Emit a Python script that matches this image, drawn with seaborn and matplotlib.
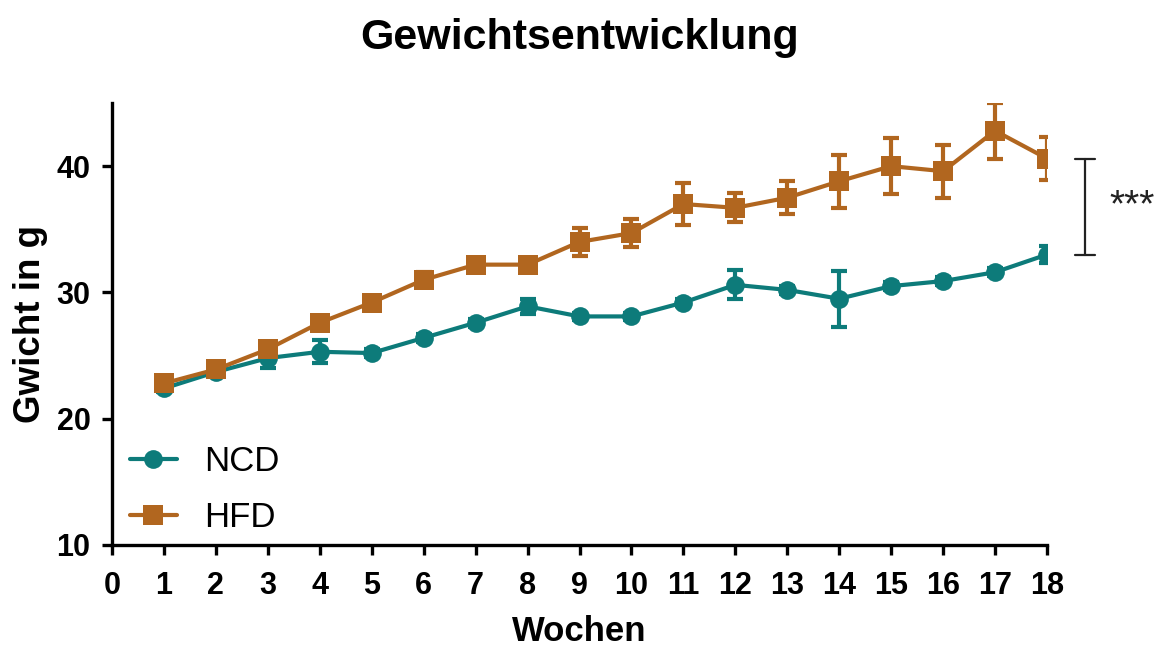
import numpy as np
import pandas as pd
import matplotlib
matplotlib.use("Agg")
import matplotlib.pyplot as plt
import seaborn as sns
from matplotlib.lines import Line2D

# Body weight over time (mean ± SEM) for two diet groups
weeks = list(range(1, 19))
ncd_mean = [22.4, 23.7, 24.8, 25.3, 25.2, 26.4, 27.6, 28.9, 28.1, 28.1,
            29.2, 30.6, 30.2, 29.5, 30.5, 30.9, 31.6, 33.0]
ncd_sem = [0.3, 0.3, 0.8, 0.9, 0.3, 0.3, 0.3, 0.6, 0.3, 0.3,
           0.3, 1.15, 0.3, 2.2, 0.3, 0.3, 0.3, 0.65]
hfd_mean = [22.8, 23.9, 25.5, 27.6, 29.2, 31.0, 32.2, 32.2, 34.0, 34.7,
            37.0, 36.7, 37.5, 38.8, 40.0, 39.6, 42.8, 40.6]
hfd_sem = [0.3, 0.3, 0.3, 0.3, 0.3, 0.6, 0.5, 0.5, 1.1, 1.1,
           1.7, 1.15, 1.3, 2.1, 2.2, 2.1, 2.2, 1.7]
groups = ["NCD", "HFD"]
colors = {"NCD": "#0d7b7a", "HFD": "#b1661f"}
markers = {"NCD": "o", "HFD": "s"}
msizes = {"NCD": 13.5, "HFD": 14.5}
x_ticks = list(range(0, 19))
y_ticks = [10, 20, 30, 40]
significance = "***"

df = pd.concat([
    pd.DataFrame({"Woche": weeks, "Gewicht": ncd_mean, "SEM": ncd_sem, "Gruppe": "NCD"}),
    pd.DataFrame({"Woche": weeks, "Gewicht": hfd_mean, "SEM": hfd_sem, "Gruppe": "HFD"}),
])

sns.set_theme(style="ticks")
plt.rcParams["font.family"] = ["Liberation Sans", "DejaVu Sans"]

fig = plt.figure(figsize=(11.63, 6.51), dpi=100)
ax = fig.add_axes([112 / 1163, 1 - 545 / 651, (1047 - 112) / 1163, (545 - 103) / 651])

for g in groups:
    sub = df[df["Gruppe"] == g]
    ax.errorbar(sub["Woche"], sub["Gewicht"], yerr=sub["SEM"], fmt="none",
                ecolor=colors[g], elinewidth=3, capsize=6, capthick=3, zorder=2)
    sns.lineplot(data=sub, x="Woche", y="Gewicht", ax=ax, color=colors[g],
                 marker=markers[g], markersize=msizes[g], markeredgewidth=0,
                 linewidth=3, legend=False, zorder=3)

ax.set_xlim(0, 18)
ax.set_ylim(10, 45)
ax.set_xticks(x_ticks)
ax.set_yticks(y_ticks)
ax.tick_params(axis="both", direction="out", length=7.5, width=2.4, labelsize=22,
               color="black", labelcolor="black")
ax.tick_params(axis="x", pad=11)
ax.tick_params(axis="y", pad=8)
for lab in ax.get_xticklabels() + ax.get_yticklabels():
    lab.set_fontweight("bold")
for side in ["top", "right"]:
    ax.spines[side].set_visible(False)
for side in ["left", "bottom"]:
    ax.spines[side].set_linewidth(2.4)
    ax.spines[side].set_color("black")

ax.set_xlabel("Wochen", fontsize=25, fontweight="bold", color="black")
ax.set_ylabel("Gwicht in g", fontsize=26.5, fontweight="bold", color="black")
ax.xaxis.set_label_coords(0.5, -0.158)
ax.yaxis.set_label_coords(-0.068, 0.5)
ax.set_title("Gewichtsentwicklung", fontsize=31, fontweight="bold", pad=39, color="black")

# significance bracket between the final-week means
y_lo, y_hi = ncd_mean[-1], hfd_mean[-1]
bx, cap = 18.73, 0.19
ax.plot([bx, bx], [y_lo, y_hi], color="#222222", lw=1.6, clip_on=False)
ax.plot([bx - cap, bx + cap], [y_lo, y_lo], color="#222222", lw=1.6, clip_on=False)
ax.plot([bx - cap, bx + cap], [y_hi, y_hi], color="#222222", lw=1.6, clip_on=False)
ax.text(19.64, (y_lo + y_hi) / 2, significance, fontsize=28, ha="center", va="center",
        color="#222222", clip_on=False)

handles = [Line2D([0], [0], color=colors[g], marker=markers[g], markersize=msizes[g],
                  markeredgewidth=0, linewidth=3) for g in groups]
ax.legend(handles, groups, loc="lower left", bbox_to_anchor=(0.019, 0.025), frameon=False,
          fontsize=25, handlelength=1.35, handletextpad=0.8, labelspacing=0.66,
          borderaxespad=0, borderpad=0, labelcolor="black")

fig.savefig("out.png", dpi=100)
